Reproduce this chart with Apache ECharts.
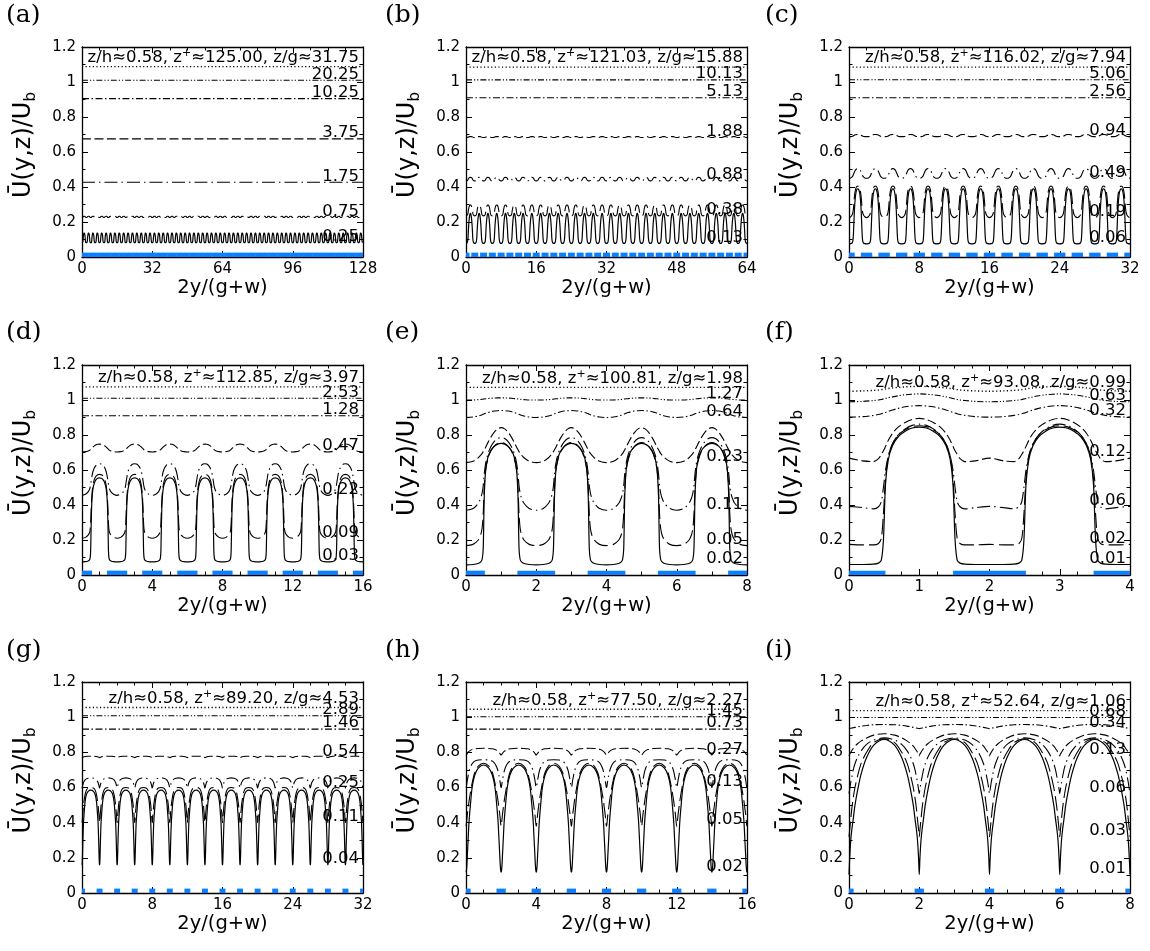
<!DOCTYPE html>
<html><head><meta charset="utf-8">
<script src="https://cdn.jsdelivr.net/npm/echarts@6/dist/echarts.min.js"></script>
<style>html,body{margin:0;padding:0;background:#fff}#c{width:1150px;height:951px}</style>
</head><body><div id="c"></div>
<script>
// sample positions: distance from a ridge centre (even 2y/(g+w)) towards the gap centre (odd)
const sWide   = [0, 0.2, 0.35, 0.42, 0.46, 0.49, 0.52, 0.56, 0.62, 0.7, 0.8, 0.9, 1.0];
const sNarrow = [0, 0.02, 0.05, 0.08, 0.12, 0.17, 0.25, 0.35, 0.5, 0.7, 1.0];

// ---- panel (a)
const aXMax = 128, aTick = 32, aRidgeHalf = 0.5;
const aLabels = ['z/h≈0.58, z{sup|+}≈125.00, z/g≈31.75', '20.25', '10.25', '3.75', '1.75', '0.75', '0.25'];
const aL1 = [1.088];
const aL2 = [1.01];
const aL3 = [0.905];
const aL4 = [0.675];
const aL5 = [0.427];
const aL6 = [0.226,0.226,0.227,0.228,0.229,0.23,0.23,0.231,0.232,0.232,0.233,0.233,0.233];
const aL7 = [0.08,0.082,0.086,0.09,0.095,0.1,0.105,0.112,0.12,0.127,0.133,0.137,0.139];

// ---- panel (b)
const bXMax = 64, bTick = 16, bRidgeHalf = 0.5;
const bLabels = ['z/h≈0.58, z{sup|+}≈121.03, z/g≈15.88', '10.13', '5.13', '1.88', '0.88', '0.38', '0.13'];
const bL1 = [1.085];
const bL2 = [1.012];
const bL3 = [0.91];
const bL4 = [0.683,0.683,0.684,0.684,0.685,0.685,0.686,0.686,0.687,0.687,0.688,0.688,0.688];
const bL5 = [0.435,0.436,0.438,0.44,0.442,0.444,0.446,0.448,0.45,0.452,0.454,0.455,0.455];
const bL6 = [0.235,0.237,0.242,0.247,0.252,0.257,0.263,0.27,0.278,0.286,0.293,0.297,0.298];
const bL7 = [0.078,0.08,0.088,0.1,0.11,0.125,0.14,0.16,0.185,0.21,0.232,0.245,0.25];

// ---- panel (c)
const cXMax = 32, cTick = 8, cRidgeHalf = 0.5;
const cLabels = ['z/h≈0.58, z{sup|+}≈116.02, z/g≈7.94', '5.06', '2.56', '0.94', '0.49', '0.19', '0.06'];
const cL1 = [1.085];
const cL2 = [1.013];
const cL3 = [0.91];
const cL4 = [0.688,0.688,0.689,0.69,0.691,0.692,0.693,0.694,0.696,0.698,0.699,0.7,0.7];
const cL5 = [0.45,0.452,0.458,0.462,0.466,0.47,0.474,0.479,0.486,0.494,0.5,0.504,0.505];
const cL6 = [0.225,0.23,0.24,0.25,0.26,0.27,0.285,0.31,0.345,0.375,0.395,0.403,0.405];
const cL7 = [0.075,0.076,0.08,0.088,0.1,0.12,0.15,0.2,0.27,0.33,0.37,0.386,0.39];

// ---- panel (d)
const dXMax = 16, dTick = 4, dRidgeHalf = 0.5;
const dLabels = ['z/h≈0.58, z{sup|+}≈112.85, z/g≈3.97', '2.53', '1.28', '0.47', '0.22', '0.09', '0.03'];
const dL1 = [1.075];
const dL2 = [1.01];
const dL3 = [0.91];
const dL4 = [0.703,0.705,0.709,0.712,0.715,0.718,0.721,0.725,0.731,0.738,0.744,0.747,0.748];
const dL5 = [0.455,0.462,0.475,0.488,0.5,0.515,0.535,0.56,0.59,0.612,0.627,0.634,0.636];
const dL6 = [0.21,0.215,0.228,0.24,0.255,0.29,0.37,0.45,0.51,0.545,0.565,0.573,0.575];
const dL7 = [0.075,0.076,0.08,0.085,0.095,0.13,0.28,0.42,0.49,0.525,0.545,0.553,0.555];

// ---- panel (e)
const eXMax = 8, eTick = 2, eRidgeHalf = 0.5;
const eLabels = ['z/h≈0.58, z{sup|+}≈100.81, z/g≈1.98', '1.27', '0.64', '0.23', '0.11', '0.05', '0.02'];
const eL1 = [1.072];
const eL2 = [1.0,1.0,1.002,1.003,1.004,1.005,1.006,1.007,1.008,1.01,1.011,1.012,1.012];
const eL3 = [0.9,0.903,0.909,0.913,0.916,0.918,0.921,0.924,0.928,0.933,0.937,0.939,0.94];
const eL4 = [0.642,0.65,0.67,0.685,0.695,0.705,0.716,0.73,0.755,0.785,0.815,0.835,0.842];
const eL5 = [0.37,0.38,0.41,0.44,0.47,0.51,0.58,0.64,0.69,0.73,0.762,0.78,0.785];
const eL6 = [0.168,0.175,0.2,0.23,0.27,0.35,0.5,0.6,0.66,0.705,0.735,0.752,0.757];
const eL7 = [0.058,0.06,0.066,0.075,0.09,0.15,0.45,0.6,0.67,0.71,0.735,0.748,0.752];

// ---- panel (f)
const fXMax = 4, fTick = 1, fRidgeHalf = 0.5;
const fLabels = ['z/h≈0.58, z{sup|+}≈93.08, z/g≈0.99', '0.63', '0.32', '0.12', '0.06', '0.02', '0.01'];
const fL1 = [1.05,1.052,1.055,1.057,1.059,1.061,1.063,1.066,1.069,1.072,1.075,1.077,1.078];
const fL2 = [0.99,0.992,0.997,1.0,1.003,1.006,1.009,1.013,1.018,1.024,1.03,1.033,1.035];
const fL3 = [0.902,0.905,0.912,0.917,0.921,0.925,0.929,0.935,0.943,0.952,0.961,0.966,0.968];
const fL4 = [0.668,0.652,0.648,0.665,0.69,0.71,0.735,0.77,0.81,0.845,0.872,0.889,0.895];
const fL5 = [0.392,0.385,0.378,0.39,0.42,0.5,0.6,0.68,0.75,0.8,0.835,0.855,0.862];
const fL6 = [0.175,0.172,0.172,0.18,0.21,0.35,0.55,0.68,0.75,0.8,0.83,0.848,0.853];
const fL7 = [0.06,0.06,0.062,0.068,0.085,0.2,0.52,0.66,0.74,0.79,0.822,0.84,0.845];

// ---- panel (g)
const gXMax = 32, gTick = 8, gRidgeHalf = 0.19;
const gLabels = ['z/h≈0.58, z{sup|+}≈89.20, z/g≈4.53', '2.89', '1.46', '0.54', '0.25', '0.11', '0.04'];
const gL1 = [1.055];
const gL2 = [1.008];
const gL3 = [0.932];
const gL4 = [0.77,0.77,0.771,0.772,0.773,0.774,0.775,0.776,0.777,0.778,0.778];
const gL5 = [0.595,0.598,0.605,0.612,0.62,0.628,0.636,0.643,0.649,0.653,0.655];
const gL6 = [0.40,0.405,0.425,0.45,0.47,0.5,0.53,0.56,0.585,0.597,0.6];
const gL7 = [0.16,0.165,0.2,0.26,0.33,0.4,0.46,0.52,0.56,0.578,0.585];

// ---- panel (h)
const hXMax = 16, hTick = 4, hRidgeHalf = 0.19;
const hLabels = ['z/h≈0.58, z{sup|+}≈77.50, z/g≈2.27', '1.45', '0.73', '0.27', '0.13', '0.05', '0.02'];
const hL1 = [1.045];
const hL2 = [1.002];
const hL3 = [0.932];
const hL4 = [0.782,0.785,0.79,0.795,0.8,0.805,0.811,0.816,0.82,0.822,0.823];
const hL5 = [0.6,0.605,0.625,0.645,0.665,0.69,0.715,0.735,0.75,0.756,0.758];
const hL6 = [0.38,0.39,0.42,0.45,0.48,0.52,0.57,0.625,0.685,0.722,0.738];
const hL7 = [0.118,0.125,0.16,0.22,0.3,0.4,0.5,0.6,0.67,0.71,0.728];

// ---- panel (i)
const iXMax = 8, iTick = 2, iRidgeHalf = 0.095;
const iLabels = ['z/h≈0.58, z{sup|+}≈52.64, z/g≈1.06', '0.68', '0.34', '0.13', '0.06', '0.03', '0.01'];
const iL1 = [1.037];
const iL2 = [0.998];
const iL3 = [0.935,0.936,0.937,0.938,0.94,0.942,0.945,0.949,0.953,0.957,0.958];
const iL4 = [0.78,0.79,0.8,0.81,0.822,0.835,0.85,0.865,0.882,0.898,0.906];
const iL5 = [0.565,0.59,0.63,0.66,0.7,0.735,0.775,0.81,0.845,0.87,0.882];
const iL6 = [0.32,0.36,0.42,0.48,0.54,0.6,0.67,0.74,0.8,0.855,0.877];
const iL7 = [0.105,0.2,0.3,0.36,0.42,0.5,0.59,0.68,0.77,0.84,0.873];

const yTicks = {min: 0, max: 1.2, interval: 0.2};

const panels = [
  {id:'a', xMax:aXMax, tick:aTick, s:sWide,   lines:[aL1,aL2,aL3,aL4,aL5,aL6,aL7], labels:aLabels, ridgeHalf:aRidgeHalf},
  {id:'b', xMax:bXMax, tick:bTick, s:sWide,   lines:[bL1,bL2,bL3,bL4,bL5,bL6,bL7], labels:bLabels, ridgeHalf:bRidgeHalf},
  {id:'c', xMax:cXMax, tick:cTick, s:sWide,   lines:[cL1,cL2,cL3,cL4,cL5,cL6,cL7], labels:cLabels, ridgeHalf:cRidgeHalf},
  {id:'d', xMax:dXMax, tick:dTick, s:sWide,   lines:[dL1,dL2,dL3,dL4,dL5,dL6,dL7], labels:dLabels, ridgeHalf:dRidgeHalf},
  {id:'e', xMax:eXMax, tick:eTick, s:sWide,   lines:[eL1,eL2,eL3,eL4,eL5,eL6,eL7], labels:eLabels, ridgeHalf:eRidgeHalf},
  {id:'f', xMax:fXMax, tick:fTick, s:sWide,   lines:[fL1,fL2,fL3,fL4,fL5,fL6,fL7], labels:fLabels, ridgeHalf:fRidgeHalf},
  {id:'g', xMax:gXMax, tick:gTick, s:sNarrow, lines:[gL1,gL2,gL3,gL4,gL5,gL6,gL7], labels:gLabels, ridgeHalf:gRidgeHalf},
  {id:'h', xMax:hXMax, tick:hTick, s:sNarrow, lines:[hL1,hL2,hL3,hL4,hL5,hL6,hL7], labels:hLabels, ridgeHalf:hRidgeHalf},
  {id:'i', xMax:iXMax, tick:iTick, s:sNarrow, lines:[iL1,iL2,iL3,iL4,iL5,iL6,iL7], labels:iLabels, ridgeHalf:iRidgeHalf}
];

// one period profile repeated over each ridge/gap pair
function buildLine(s, v, xMax) {
  const vals = v.length === 1 ? s.map(() => v[0]) : v;
  const out = [];
  const nPer = Math.round(xMax / 2);
  for (let k = 0; k < nPer; k++) {
    const base = 2 * k;
    for (let i = (k === 0 ? 0 : 1); i < s.length; i++) out.push([base + s[i], vals[i]]);
    for (let i = s.length - 2; i >= 0; i--) out.push([base + 2 - s[i], vals[i]]);
  }
  return out;
}
function buildRidges(xMax, half) {
  const out = [];
  for (let c = 0; c <= xMax; c += 2) out.push([Math.max(0, c - half), Math.min(xMax, c + half)]);
  return out;
}

// ---- layout & styles
const FONT = 'DejaVu Sans';
const colLeft = [82, 466, 849];
const rowTop = [47, 365, 682];
const rowH = [210, 210, 211];
const plotW = 281;
const letterLeft = [6, 385, 765];
const letterTop = [3, 320, 638];
const dashes = [[1.2, 2.4], [6, 2, 1.2, 2, 1.2, 2], [7, 2.5, 1.5, 2.5], [9, 3.5], [13, 4, 1.5, 4], [15, 5], 'solid'];
const lineWidths = [1.4, 1.1, 1.1, 1.1, 1.1, 1.1, 1.2];
const RIDGE_TOP = 0.025;
const RIDGE_PAD = 1.3; // px added at each end of a ridge mark (pen width of the original drawing)

const option = {animation:false, backgroundColor:'#fff', title:[], grid:[], xAxis:[], yAxis:[], series:[]};

panels.forEach((p, i) => {
  const col = i % 3, row = Math.floor(i / 3);
  option.grid.push({left:colLeft[col], top:rowTop[row], width:plotW, height:rowH[row]});
  option.title.push({text:'(' + p.id + ')', left:letterLeft[col], top:letterTop[row], padding:0,
    textStyle:{fontFamily:'DejaVu Serif', fontSize:25, fontWeight:'normal', color:'#000'}});
  const axLine = {show:true, onZero:false, lineStyle:{color:'#000', width:1.3}};
  const tick = {show:true, inside:true, length:6, lineStyle:{color:'#000', width:1}};
  const xBase = {gridIndex:i, type:'value', min:0, max:p.xMax, interval:p.tick, axisLine:axLine, axisTick:tick,
    minorTick:{show:true, splitNumber:4, length:3.5, lineStyle:{color:'#000', width:1}}, splitLine:{show:false}, minorSplitLine:{show:false}};
  option.xAxis.push(Object.assign({}, xBase, {position:'bottom',
    axisLabel:{color:'#000', fontFamily:FONT, fontSize:15, margin:5},
    name:'2y/(g+w)', nameLocation:'middle', nameGap:21,
    nameTextStyle:{fontFamily:FONT, fontSize:19.5, color:'#000'}}));
  option.xAxis.push(Object.assign({}, xBase, {position:'top', axisLabel:{show:false}}));
  const yBase = {gridIndex:i, type:'value', min:yTicks.min, max:yTicks.max, interval:yTicks.interval, axisLine:axLine, axisTick:tick,
    minorTick:{show:true, splitNumber:2, length:3.5, lineStyle:{color:'#000', width:1}}, splitLine:{show:false}, minorSplitLine:{show:false}};
  option.yAxis.push(Object.assign({}, yBase, {position:'left',
    axisLabel:{color:'#000', fontFamily:FONT, fontSize:15, margin:6},
    name:'U\u0304(y,z)/U{sub|b}', nameLocation:'middle', nameGap:43,
    nameTextStyle:{fontFamily:FONT, fontSize:24, color:'#000', lineHeight:30, padding:[0,0,0,14],
      rich:{sub:{fontFamily:FONT, fontSize:15, lineHeight:15, verticalAlign:'bottom', color:'#000'}}}}));
  option.yAxis.push(Object.assign({}, yBase, {position:'right', axisLabel:{show:false}}));

  // ridges (blue)
  option.series.push({type:'custom', xAxisIndex:2*i, yAxisIndex:2*i, silent:true, clip:true, z:3,
    data: buildRidges(p.xMax, p.ridgeHalf),
    renderItem: (params, api) => {
      const p0 = api.coord([api.value(0), 0]);
      const p1 = api.coord([api.value(1), RIDGE_TOP]);
      return {type:'rect', shape:{x:p0[0]-RIDGE_PAD, y:p1[1], width:p1[0]-p0[0]+2*RIDGE_PAD, height:p0[1]-p1[1]}, style:{fill:'#0a80ff'}};
    }});

  p.lines.forEach((v, j) => {
    const isHeader = j === 0;
    option.series.push({type:'line', xAxisIndex:2*i, yAxisIndex:2*i, silent:true, symbol:'none', smooth:0.3,
      clip:true, z:4,
      data: buildLine(p.s, v, p.xMax),
      lineStyle:{color:'#000', width:lineWidths[j], type:dashes[j]},
      endLabel:{show:true, formatter:() => p.labels[j], distance:0, align:'right', verticalAlign:'bottom',
        offset: isHeader ? [-4, 1] : [-4, 3],
        color:'#000', fontFamily:FONT, fontSize:16.5, lineHeight: isHeader ? 20 : 18,
        rich:{sup:{fontFamily:FONT, fontSize:11, lineHeight:11, verticalAlign:'top', color:'#000'}}}
    });
  });
});

const chart = echarts.init(document.getElementById('c'), null, {renderer:'canvas'});
chart.setOption(option);
</script></body></html>
